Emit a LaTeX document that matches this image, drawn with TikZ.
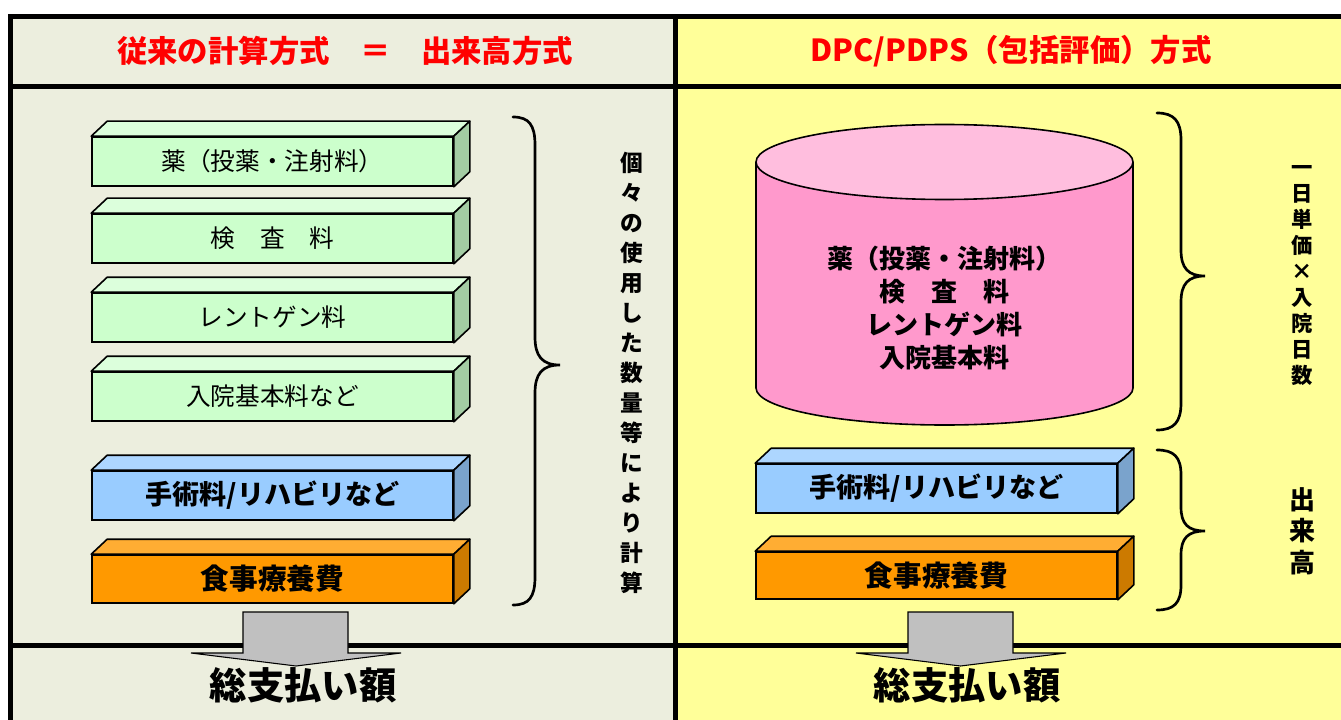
\documentclass[tikz,border=0pt]{standalone}
\usepackage{fontspec}
\setmainfont{Noto Sans CJK JP}
\newfontfamily\jp{Noto Sans CJK JP}
\definecolor{leftbg}{RGB}{236,238,222}
\definecolor{rightbg}{RGB}{255,255,153}
\definecolor{gfront}{RGB}{204,255,204}
\definecolor{gtop}{RGB}{220,255,220}
\definecolor{gside}{RGB}{163,204,163}
\definecolor{bfront}{RGB}{153,204,255}
\definecolor{btop}{RGB}{173,214,255}
\definecolor{bside}{RGB}{122,163,204}
\definecolor{ofront}{RGB}{255,153,0}
\definecolor{otop}{RGB}{255,173,51}
\definecolor{oside}{RGB}{204,122,0}
\definecolor{pinktop}{RGB}{255,190,222}
\definecolor{pinkbody}{RGB}{255,153,204}
\definecolor{arrowgray}{RGB}{192,192,192}
\tikzset{
  frameline/.style={line width=3.75pt, black},
  face/.style={draw=black, line width=1.2pt, line join=round},
  frontface/.style={draw=black, line width=1.2pt, rectangle, inner sep=0pt, text=black},
  gfont/.style={font=\jp\fontsize{18.5}{20}\selectfont},
  bfont/.style={font=\jp\bfseries\fontsize{20.3}{22}\selectfont},
  ofont/.style={font=\jp\bfseries\fontsize{21.5}{23}\selectfont},
  header/.style={font=\jp\bfseries\fontsize{22.8}{25}\selectfont, text=red, inner sep=0pt},
  vtextA/.style={font=\jp\bfseries\fontsize{17}{22.5}\selectfont, align=center, inner sep=0pt},
  vtextB/.style={font=\jp\bfseries\fontsize{16}{19.5}\selectfont, align=center, inner sep=0pt},
  vtextC/.style={font=\jp\bfseries\fontsize{19.5}{23.6}\selectfont, align=center, inner sep=0pt},
  cyltext/.style={font=\jp\bfseries\fontsize{19.5}{24.75}\selectfont, align=center, inner sep=0pt},
  total/.style={font=\jp\bfseries\fontsize{28}{30}\selectfont, inner sep=0pt},
  bracestyle/.style={draw=black, line width=2pt, line cap=round},
  grayarrow/.style={draw=black, line width=0.8pt, fill=arrowgray, line join=miter},
}
\newcommand\threedbox[7]{%
  \node[frontface, #6font, fill=#6front, minimum width=#4*0.75pt, minimum height=#5*0.75pt] (#1) at (#2,#3) {#7};
  \draw[face, fill=#6top] (#1.north west) -- ++(16,-15) -- ([shift={(16,-15)}]#1.north east) -- (#1.north east) -- cycle;
  \draw[face, fill=#6side] (#1.north east) -- ++(16,-15) -- ([shift={(16,-15)}]#1.south east) -- (#1.south east) -- cycle;
}
\begin{document}
\begin{tikzpicture}[x=0.75pt,y=-0.75pt]
\useasboundingbox (0,0) rectangle (1341,720);
\clip (0,0) rectangle (1341,720);
\fill[white] (0,0) rectangle (1341,720);
\fill[leftbg] (10,17) rectangle (675,725);
\fill[rightbg] (675,17) rectangle (1350,725);
% frame
\draw[frameline] (8,17) -- (1350,17);
\draw[frameline] (8,87) -- (1350,87);
\draw[frameline] (8,645) -- (1350,645);
\draw[frameline] (10,15) -- (10,725);
\draw[frameline] (675,15) -- (675,725);
% headers
\node[header] (hl) at (345,51) {従来の計算方式　＝　出来高方式};
\node[header] (hr) at (1011,51) {DPC/PDPS（包括評価）方式};
% left boxes
\threedbox{lb1}{272.5}{161.5}{361}{49}{g}{薬（投薬・注射料）}
\threedbox{lb2}{272.5}{238.5}{361}{49}{g}{検　査　料}
\threedbox{lb3}{272.5}{317.5}{361}{49}{g}{レントゲン料}
\threedbox{lb4}{272.5}{396.5}{361}{49}{g}{入院基本料など}
\threedbox{lb5}{272.5}{495.5}{361}{49}{b}{手術料/リハビリなど}
\threedbox{lb6}{272.5}{579}{361}{48}{o}{食事療養費}
% left brace
\draw[bracestyle] (513,117) .. controls (529,117) and (535,125) .. (535,145) -- (535,337) .. controls (535,356) and (542,365) .. (560,365) .. controls (542,365) and (535,374) .. (535,393) -- (535,577) .. controls (535,597) and (529,605) .. (513,605);
\node[vtextA] (vl) at (632,373) {個\\々\\の\\使\\用\\し\\た\\数\\量\\等\\に\\よ\\り\\計\\算};
% cylinder
\draw[face, fill=pinkbody] (944.5,388) ellipse [x radius=188.5, y radius=37];
\fill[pinkbody] (756,162) rectangle (1133,388);
\draw[face] (756,162) -- (756,388);
\draw[face] (1133,162) -- (1133,388);
\draw[face, fill=pinktop] (944.5,162) ellipse [x radius=188.5, y radius=37.5];
\node[cyltext] (cyl) at (944.5,308) {薬（投薬・注射料）\\検　査　料\\レントゲン料\\入院基本料};
% right boxes
\threedbox{rb1}{936.5}{488.5}{361}{49}{b}{手術料/リハビリなど}
\threedbox{rb2}{936.5}{575.5}{361}{47}{o}{食事療養費}
% right braces
\draw[bracestyle] (1157,113) .. controls (1174,113) and (1181,121) .. (1181,140) -- (1181,250) .. controls (1181,268) and (1188,276) .. (1205,276) .. controls (1188,276) and (1181,284) .. (1181,302) -- (1181,403) .. controls (1181,422) and (1174,430) .. (1157,430);
\draw[bracestyle] (1157,450) .. controls (1174,450) and (1181,457) .. (1181,475) -- (1181,507) .. controls (1181,524) and (1188,531) .. (1205,531) .. controls (1188,531) and (1181,538) .. (1181,555) -- (1181,585) .. controls (1181,603) and (1174,610) .. (1157,610);
\node[vtextB] (vr1) at (1302,276) {一\\日\\単\\価\\×\\入\\院\\日\\数};
\node[vtextC] (vr2) at (1302,531) {出\\来\\高};
% bottom arrows
\draw[grayarrow] (243,612) -- (348,612) -- (348,653) -- (401,653) -- (296,666) -- (191,653) -- (243,653) -- cycle;
\draw[grayarrow] (908,612) -- (1013,612) -- (1013,653) -- (1066,653) -- (960.5,666) -- (856,653) -- (908,653) -- cycle;
\node[total] (tl) at (303,685) {総支払い額};
\node[total] (tr) at (967,685) {総支払い額};
\end{tikzpicture}
\end{document}
